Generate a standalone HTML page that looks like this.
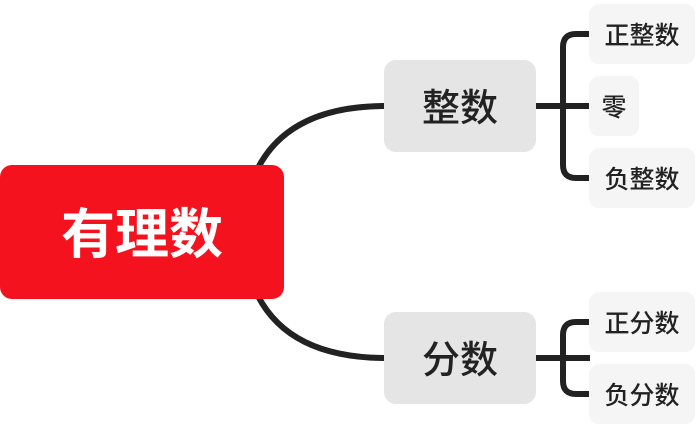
<!DOCTYPE html><html><head><meta charset="utf-8"><style>
body{margin:0;width:700px;height:424px;background:#fff;position:relative;overflow:hidden;font-family:"Liberation Sans","Noto Sans CJK SC",sans-serif}
.n{position:absolute;display:flex;align-items:center;justify-content:center;box-sizing:border-box}
.m{font-weight:500}
</style></head><body>
<svg width="700" height="424" style="position:absolute;left:0;top:0" fill="none" stroke="#222" stroke-width="6">
<path d="M258,168 Q290,106 386,106"/>
<path d="M258,296 Q290,358 386,358"/>
<path d="M534,106 H590 M590,34 H576 Q563,34 563,47 V165 Q563,178 576,178 H590"/>
<path d="M534,358 H590 M590,322 H576 Q563,322 563,335 V381 Q563,394 576,394 H590"/>
</svg>
<div class="n" style="left:0;top:165px;width:284px;height:134px;background:#f5121f;border-radius:12px;color:#fff;font-size:54px;font-weight:bold;padding-bottom:6px">有理数</div>
<div class="n m" style="left:384px;top:60px;width:152px;height:92px;background:#e5e5e5;border-radius:12px;color:#222;font-size:38px;padding-bottom:3px">整数</div>
<div class="n m" style="left:384px;top:312px;width:152px;height:92px;background:#e5e5e5;border-radius:12px;color:#222;font-size:38px;padding-bottom:3px">分数</div>
<div class="n m" style="left:589px;top:4px;width:106px;height:60px;background:#f5f5f5;border-radius:10px;color:#222;font-size:25px">正整数</div>
<div class="n m" style="left:589px;top:76px;width:50px;height:60px;background:#f5f5f5;border-radius:10px;color:#222;font-size:25px">零</div>
<div class="n m" style="left:589px;top:148px;width:106px;height:60px;background:#f5f5f5;border-radius:10px;color:#222;font-size:25px">负整数</div>
<div class="n m" style="left:589px;top:292px;width:106px;height:60px;background:#f5f5f5;border-radius:10px;color:#222;font-size:25px">正分数</div>
<div class="n m" style="left:589px;top:364px;width:106px;height:60px;background:#f5f5f5;border-radius:10px;color:#222;font-size:25px">负分数</div>
</body></html>
